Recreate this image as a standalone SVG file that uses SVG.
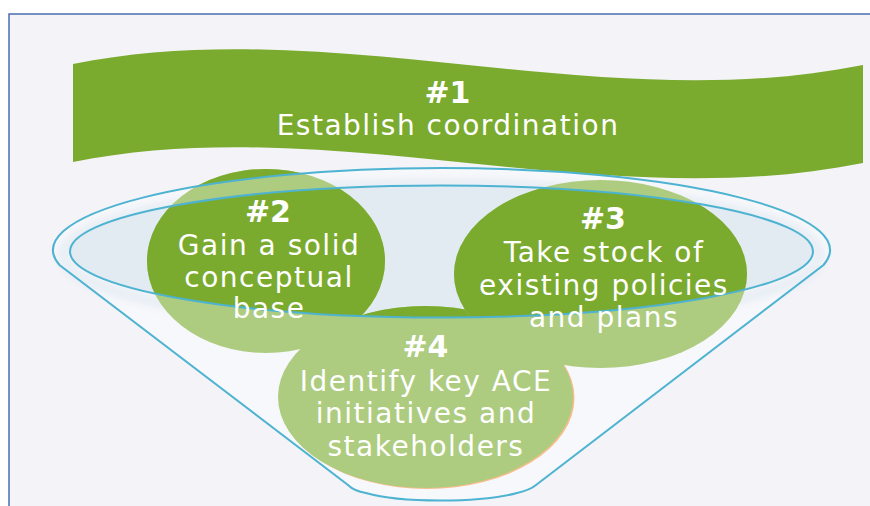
<svg xmlns="http://www.w3.org/2000/svg" width="870" height="506" viewBox="0 0 870 506">
  <style>
    .num { font-family: "DejaVu Sans", "Liberation Sans", sans-serif; font-weight: bold; font-size: 30px; fill: #ffffff; text-anchor: middle; }
    .lbl { font-family: "DejaVu Sans", "Liberation Sans", sans-serif; font-size: 28px; letter-spacing: 1.5px; fill: #ffffff; text-anchor: middle; }
    .dark { fill: #7aab2f; }
    .light { fill: #adcc80; }
    .rim { fill: none; stroke: #4db3d1; stroke-width: 2; }
  </style>
  <defs>
    <path id="funnelShape" d="M 59.5 265 A 388.5 82 0 1 1 823.5 265 L 536 485 Q 530 490 517 493 C 480 503 400 503 366 493 Q 354 491 348 485 Z"/>
    <clipPath id="clear">
      <ellipse cx="441.5" cy="251.5" rx="371.5" ry="66"/>
      <path clip-rule="evenodd" d="M -10 -10 H 880 V 516 H -10 Z M 59.5 265 A 388.5 82 0 1 1 823.5 265 L 536 485 Q 530 490 517 493 C 480 503 400 503 366 493 Q 354 491 348 485 Z"/>
    </clipPath>
    <filter id="soft" x="-10%" y="-30%" width="120%" height="160%">
      <feGaussianBlur stdDeviation="4"/>
    </filter>
  </defs>

  <g id="background">
    <rect x="0" y="0" width="870" height="506" fill="#ffffff"/>
    <rect x="9" y="14" width="870" height="500" fill="#f3f3f8"/>
    <path d="M 9 506 V 14 H 870" fill="none" stroke="#4a6eb0" stroke-width="1.5"/>
  </g>

  <g id="node-1">
    <path d="M 73 64 C 330 12 600 118 863 65 L 863 163 C 600 216 330 110 73 162 Z" fill="#7aab2f"/>
    <text class="num" x="447.5" y="103">#1</text>
    <text class="lbl" x="448" y="135">Establish coordination</text>
  </g>

  <g id="funnel-back">
    <use href="#funnelShape" fill="#f7f8fb"/>
    <ellipse cx="441.5" cy="255" rx="378" ry="71" fill="none" stroke="#dfe8f1" stroke-width="10" opacity="0.7" filter="url(#soft)"/>
    <ellipse cx="441.5" cy="251.5" rx="371.5" ry="66" fill="#e2eaf2"/>
  </g>

  <g id="node-4">
    <ellipse cx="427" cy="398" rx="147.5" ry="91" fill="#f5bd8a"/>
    <ellipse class="light" cx="425.5" cy="397" rx="147.5" ry="91"/>
    <ellipse class="dark" cx="425.5" cy="397" rx="147.5" ry="91" clip-path="url(#clear)"/>
  </g>

  <g id="node-2">
    <ellipse class="light" cx="266" cy="261" rx="119" ry="92"/>
    <ellipse class="dark" cx="266" cy="261" rx="119" ry="92" clip-path="url(#clear)"/>
  </g>

  <g id="node-3">
    <ellipse class="light" cx="600.5" cy="274" rx="146.5" ry="94"/>
    <ellipse class="dark" cx="600.5" cy="274" rx="146.5" ry="94" clip-path="url(#clear)"/>
  </g>

  <g id="connectors">
    <use href="#funnelShape" class="rim"/>
    <ellipse class="rim" cx="441.5" cy="251.5" rx="371.5" ry="66"/>
  </g>

  <g id="label-4">
    <text class="num" x="425.5" y="357">#4</text>
    <text class="lbl" x="426" y="391">Identify key ACE</text>
    <text class="lbl" x="426" y="423">initiatives and</text>
    <text class="lbl" x="426" y="456">stakeholders</text>
  </g>

  <g id="label-2">
    <text class="num" x="268" y="222">#2</text>
    <text class="lbl" x="269" y="255">Gain a solid</text>
    <text class="lbl" x="269" y="287">conceptual</text>
    <text class="lbl" x="269" y="318">base</text>
  </g>

  <g id="label-3">
    <text class="num" x="603" y="229">#3</text>
    <text class="lbl" x="604" y="262">Take stock of</text>
    <text class="lbl" x="604" y="295">existing policies</text>
    <text class="lbl" x="604" y="327">and plans</text>
  </g>
</svg>
